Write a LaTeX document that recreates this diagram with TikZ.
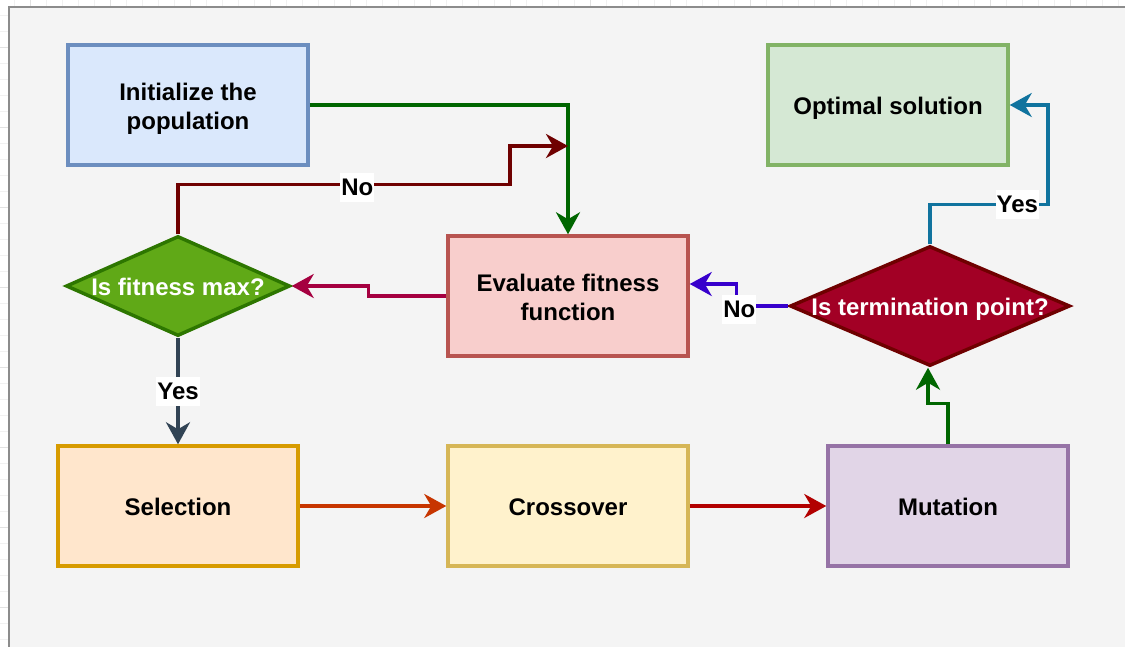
\documentclass[tikz,border=0pt]{standalone}
\usepackage{fontspec}
\setmainfont{Liberation Sans}
\usetikzlibrary{shapes.geometric,arrows.meta,calc}

% box fills and outlines
\definecolor{initfill}{HTML}{DAE8FC}\definecolor{initline}{HTML}{6C8EBF}
\definecolor{optfill}{HTML}{D5E8D4}\definecolor{optline}{HTML}{82B366}
\definecolor{evalfill}{HTML}{F8CECC}\definecolor{evalline}{HTML}{B85450}
\definecolor{selfill}{HTML}{FFE6CC}\definecolor{selline}{HTML}{D79B00}
\definecolor{crossfill}{HTML}{FFF2CC}\definecolor{crossline}{HTML}{D6B656}
\definecolor{mutfill}{HTML}{E1D5E7}\definecolor{mutline}{HTML}{9673A6}
\definecolor{fitfill}{HTML}{60A917}\definecolor{fitline}{HTML}{2D7600}
\definecolor{termfill}{HTML}{A20025}\definecolor{termline}{HTML}{6F0000}
% connector colours
\definecolor{cgreen}{HTML}{006600}
\definecolor{cdarkred}{HTML}{6F0000}
\definecolor{ccrimson}{HTML}{A50040}
\definecolor{cslate}{HTML}{314354}
\definecolor{corange}{HTML}{C73500}
\definecolor{cred}{HTML}{B20000}
\definecolor{cviolet}{HTML}{3700CC}
\definecolor{cblue}{HTML}{10739E}
% page
\definecolor{pagebg}{HTML}{F4F4F4}
\definecolor{pageframe}{HTML}{8C8C8C}
\definecolor{gridmajor}{HTML}{E2E2E2}
\definecolor{gridminor}{HTML}{F1F1F1}

% fixed line box so every text line is centred by its line height
\newcommand{\lnstrut}{\rule[-5pt]{0pt}{29pt}}

\begin{document}
\begin{tikzpicture}[x=1pt,y=-1pt,
  txt/.style={font=\fontsize{24}{29}\selectfont\bfseries},
  box/.style={txt, rectangle, line width=3.5pt, minimum width=240pt,
    minimum height=120pt, align=center, text=black},
  dia/.style={txt, diamond, line width=3.5pt, inner sep=0pt, text=white},
  conn/.style={line width=3.5pt, -{Stealth[length=22pt,width=24pt,inset=7pt]}},
  lbl/.style={txt, fill=white, text=black, inner xsep=1pt, inner ysep=0pt,
    minimum height=29pt},
  gminor/.style={draw=gridminor, line width=0.8pt},
  gmajor/.style={draw=gridmajor, line width=0.8pt}]

\useasboundingbox (0,0) rectangle (1125,646);
\fill[white] (0,0) rectangle (1125,646);

% grid strips around the page
\foreach \gx in {14,30,...,1125} \draw[gminor] (\gx,0) -- (\gx,7);
\foreach \gx in {30,110,...,1125} \draw[gmajor] (\gx,0) -- (\gx,7);
\foreach \gy in {15,31,...,646} \draw[gminor] (0,\gy) -- (9,\gy);
\foreach \gy in {47,127,...,646} \draw[gmajor] (0,\gy) -- (9,\gy);

% page
\draw[fill=pagebg, draw=pageframe, line width=2pt] (9,7) rectangle (1140,660);

% steps
\node[box, fill=initfill, draw=initline] (init) at (188,105)
  {\lnstrut Initialize the\\\lnstrut population};
\node[box, fill=optfill, draw=optline] (opt) at (888,105) {\lnstrut Optimal solution};
\node[box, fill=evalfill, draw=evalline] (eval) at (568,296)
  {\lnstrut Evaluate fitness\\\lnstrut function};
\node[box, fill=selfill, draw=selline] (sel) at (178,506) {\lnstrut Selection};
\node[box, fill=crossfill, draw=crossline] (cross) at (568,506) {\lnstrut Crossover};
\node[box, fill=mutfill, draw=mutline] (mut) at (948,506) {\lnstrut Mutation};

% decisions
\node[dia, fill=fitfill, draw=fitline, minimum width=224pt, minimum height=100pt]
  (fit) at (178,286) {\makebox[0pt]{\lnstrut Is fitness max?}};
\node[dia, fill=termfill, draw=termline, minimum width=280pt, minimum height=120pt]
  (term) at (930,306) {\makebox[0pt]{\lnstrut Is termination point?}};

% join point on the evaluation input line
\coordinate (join) at (568,146);

% connectors
\draw[conn, cgreen] (init.east) -| (eval.north);
\draw[conn, cdarkred] (fit.north) -- ++(0,-50)
  -- ++(332,0) node[lbl, pos=0.54, yshift=-3pt] {No} |- (join);
\draw[conn, ccrimson] (eval.west) -- ++(-78,0) |- (fit.east);
\draw[conn, cslate] (fit.south) -- node[lbl] {Yes} (sel.north);
\draw[conn, corange] (sel.east) -- (cross.west);
\draw[conn, cred] (cross.east) -- (mut.west);
\draw[conn, cgreen] (mut.north) -- ++(0,-41) -| ([xshift=-2pt]term.south);
\draw[conn, cviolet] (term.west) -- ++(-52,0)
  node[lbl, pos=0.94, yshift=-3pt] {No} |- ([yshift=12pt]eval.east);
\draw[conn, cblue] (term.north) -- ++(0,-40)
  -- ++(118,0) node[lbl, pos=0.74] {Yes} |- (opt.east);

\end{tikzpicture}
\end{document}
